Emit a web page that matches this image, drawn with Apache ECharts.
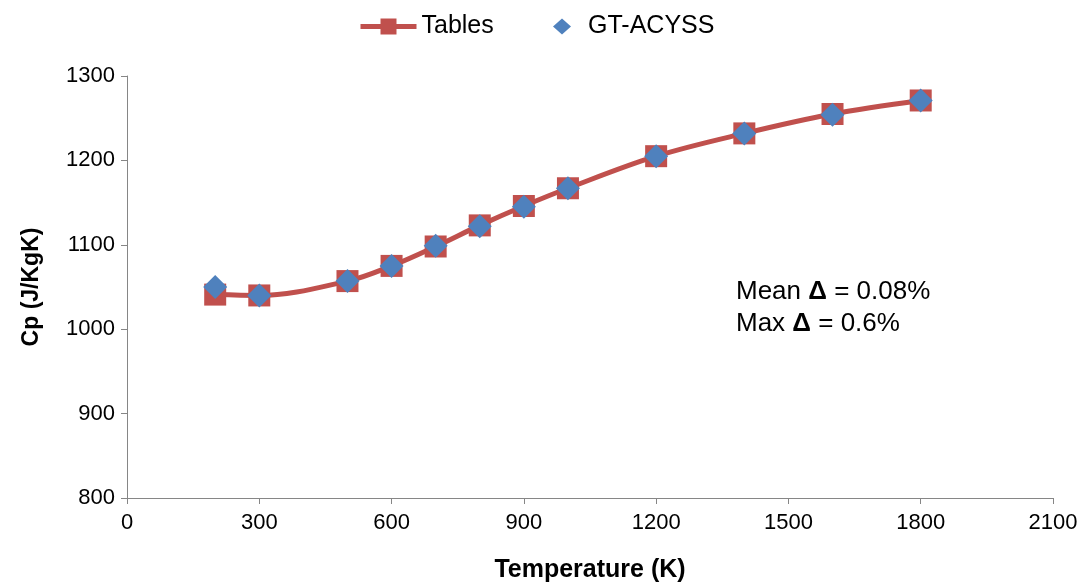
<!DOCTYPE html>
<html><head><meta charset="utf-8">
<script src="https://cdn.jsdelivr.net/npm/echarts@6/dist/echarts.min.js"></script>
<style>html,body{margin:0;padding:0;background:#fff}#c{width:1087px;height:588px}</style>
</head><body><div id="c"></div>
<script>
const temps = [200, 300, 500, 600, 700, 800, 900, 1000, 1200, 1400, 1600, 1800];
const tablesCp = [1041, 1040, 1057, 1075, 1098, 1123, 1146, 1167, 1205, 1232, 1255, 1271];
const gtCp = [1050, 1040, 1057, 1075, 1099, 1122, 1145, 1167, 1205, 1232, 1254, 1271];
const annotationLines = ['Mean', ' = 0.08%', 'Max', ' = 0.6%'];

const chart = echarts.init(document.getElementById('c'));
const font = '"Liberation Sans", Arial, sans-serif';
chart.setOption({
  animation: false,
  textStyle: { fontFamily: font },
  legend: [
    {
      left: 353, top: 9, itemWidth: 56, itemHeight: 20, itemGap: 6,
      textStyle: { fontSize: 25, color: '#000', fontFamily: font },
      lineStyle: { width: 5 }, data: ['Tables']
    },
    {
      left: 548, top: 9, itemWidth: 18, itemHeight: 16, itemGap: 6,
      textStyle: { fontSize: 25, color: '#000', fontFamily: font, padding: [0, 0, 0, 12] },
      data: [{ name: 'GT-ACYSS', icon: 'diamond' }]
    }
  ],
  grid: { left: 127, right: 34, top: 76, bottom: 90 },
  xAxis: {
    type: 'value', min: 0, max: 2100, interval: 300,
    name: 'Temperature (K)', nameLocation: 'middle', nameGap: 60,
    nameTextStyle: { fontSize: 25, fontWeight: 'bold', color: '#000' },
    axisLine: { lineStyle: { color: '#868686', width: 1 } },
    axisTick: { show: true, length: 6, lineStyle: { color: '#868686' } },
    axisLabel: { fontSize: 22, color: '#000', margin: 14, formatter: v => String(v) },
    splitLine: { show: false }
  },
  yAxis: {
    type: 'value', min: 800, max: 1300, interval: 100,
    name: 'Cp (J/KgK)', nameLocation: 'middle', nameGap: 84, nameRotate: 90,
    nameTextStyle: { fontSize: 23, fontWeight: 'bold', color: '#000' },
    axisLine: { show: true, lineStyle: { color: '#868686', width: 1 } },
    axisTick: { show: true, length: 6, lineStyle: { color: '#868686' } },
    axisLabel: { fontSize: 22, color: '#000', margin: 12, formatter: v => String(v) },
    splitLine: { show: false }
  },
  series: [
    {
      name: 'Tables', type: 'line', smooth: 0.35,
      data: temps.map((t, i) => [t, tablesCp[i]]),
      symbol: 'rect', symbolSize: 22,
      lineStyle: { color: '#C0504D', width: 5 },
      itemStyle: { color: '#C0504D', opacity: 1 }, z: 2
    },
    {
      name: 'GT-ACYSS', type: 'scatter',
      data: temps.map((t, i) => [t, gtCp[i]]),
      symbol: 'diamond', symbolSize: 24,
      itemStyle: { color: '#4F81BD', opacity: 1 }, z: 3
    }
  ],
  graphic: [{
    type: 'text', left: 736, top: 279,
    style: {
      text: '{n|' + annotationLines[0] + ' }{b|Δ}{n|' + annotationLines[1] + '}\n{n|' + annotationLines[2] + ' }{b|Δ}{n|' + annotationLines[3] + '}',
      rich: {
        n: { fontSize: 26, fontFamily: font, fill: '#000', lineHeight: 32 },
        b: { fontSize: 26, fontFamily: font, fontWeight: 'bold', fill: '#000', lineHeight: 32 }
      }
    }
  }]
});
</script></body></html>
